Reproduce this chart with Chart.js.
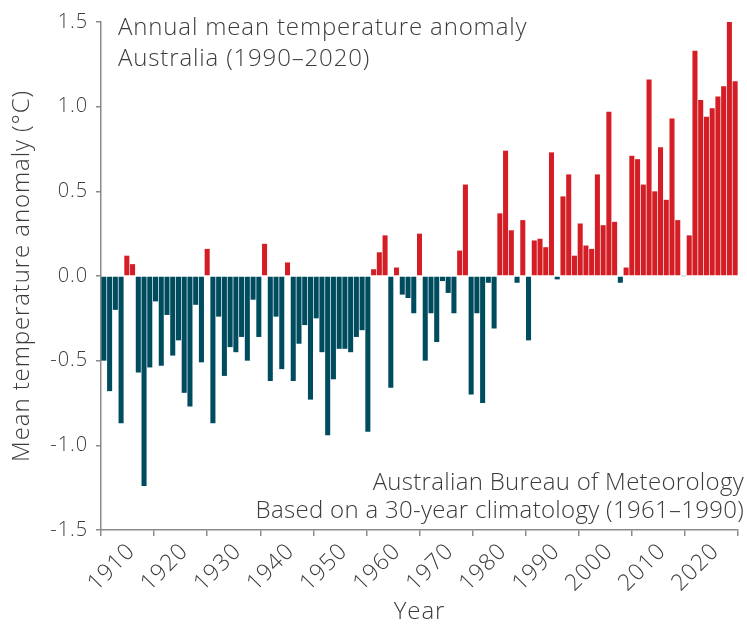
<!DOCTYPE html>
<html>
<head>
<meta charset="utf-8">
<title>Annual mean temperature anomaly – Australia</title>
<script src="https://cdn.jsdelivr.net/npm/chart.js@4/dist/chart.umd.min.js"></script>
<style>
  html, body { margin: 0; padding: 0; background: #ffffff; }
  #wrap { width: 747px; height: 627px; }
  canvas { display: block; }
</style>
</head>
<body>
<div id="wrap"><canvas id="chart" width="747" height="627"></canvas></div>
<script>
// Years covered by the record (one bar per year)
const firstYear = 1910;
const lastYear = 2020;
const years = [];
for (let y = firstYear; y <= lastYear; y++) years.push(String(y));

// Annual mean temperature anomaly (°C), 1910–2020, relative to 1961–1990
const anomalies = [
  -0.50, -0.68, -0.20, -0.87,  0.12,  0.07, -0.57, -1.24, -0.54, -0.15, // 1910s
  -0.53, -0.23, -0.47, -0.38, -0.69, -0.77, -0.17, -0.51,  0.16, -0.87, // 1920s
  -0.24, -0.59, -0.42, -0.45, -0.36, -0.50, -0.14, -0.36,  0.19, -0.62, // 1930s
  -0.24, -0.55,  0.08, -0.62, -0.40, -0.29, -0.73, -0.25, -0.45, -0.94, // 1940s
  -0.61, -0.43, -0.43, -0.45, -0.36, -0.32, -0.92,  0.04,  0.14,  0.24, // 1950s
  -0.66,  0.05, -0.11, -0.13, -0.22,  0.25, -0.50, -0.22, -0.39, -0.03, // 1960s
  -0.10, -0.22,  0.15,  0.54, -0.70, -0.22, -0.75, -0.04, -0.31,  0.37, // 1970s
   0.74,  0.27, -0.04,  0.33, -0.38,  0.21,  0.22,  0.17,  0.73, -0.02, // 1980s
   0.47,  0.60,  0.12,  0.31,  0.18,  0.16,  0.60,  0.30,  0.97,  0.32, // 1990s
  -0.04,  0.05,  0.71,  0.69,  0.54,  1.16,  0.50,  0.76,  0.45,  0.93, // 2000s
   0.33,  0.00,  0.24,  1.33,  1.04,  0.94,  0.99,  1.06,  1.12,  1.52, // 2010s
   1.15                                                                  // 2020
];

// Axis tick values
const yearTicks = [1910, 1920, 1930, 1940, 1950, 1960, 1970, 1980, 1990, 2000, 2010, 2020];
const anomalyTicks = [-1.5, -1.0, -0.5, 0.0, 0.5, 1.0, 1.5];

// Text blocks
const titleLines = ['Annual mean temperature anomaly', 'Australia (1990–2020)'];
const sourceLines = ['Australian Bureau of Meteorology', 'Based on a 30-year climatology (1961–1990)'];

const WARM = '#D41D24';
const COOL = '#004C5F';
const NEUTRAL = '#C8C8C8';
const TEXT = '#3C3C3C';
const AXIS = '#8A8A8A';
const FONT = "'Open Sans', 'Lato', sans-serif";
const SPACING = '0.9px';

const barColours = anomalies.map(v => v > 0 ? WARM : (v < 0 ? COOL : NEUTRAL));

// Slightly open letter spacing for all canvas text (set before measuring and drawing)
const spacingPlugin = {
  id: 'spacing',
  beforeUpdate(chart) { chart.ctx.letterSpacing = SPACING; },
  beforeDraw(chart) { chart.ctx.letterSpacing = SPACING; }
};

// Draws the heading (top left) and the source note (bottom right)
const notesPlugin = {
  id: 'notes',
  afterDraw(chart) {
    const { ctx, chartArea } = chart;
    ctx.save();
    ctx.fillStyle = TEXT;
    ctx.textBaseline = 'alphabetic';
    ctx.font = `300 24px ${FONT}`;
    ctx.letterSpacing = '0.85px';
    ctx.textAlign = 'left';
    titleLines.forEach((line, i) => ctx.fillText(line, chartArea.left + 17, 35 + i * 30.5));
    ctx.letterSpacing = '0.3px';
    ctx.textAlign = 'right';
    sourceLines.forEach((line, i) => ctx.fillText(line, chart.width - 3, 490 + i * 27.5));
    ctx.restore();
  }
};

new Chart(document.getElementById('chart'), {
  type: 'bar',
  data: {
    labels: years,
    datasets: [{
      data: anomalies,
      backgroundColor: barColours,
      borderWidth: 0,
      barPercentage: 0.88,
      categoryPercentage: 1.0,
      minBarLength: 1,
      xAxisID: 'x',
      yAxisID: 'y'
    }]
  },
  options: {
    responsive: false,
    animation: false,
    layout: { padding: { left: 0, right: 9, top: 22, bottom: 0 } },
    plugins: {
      legend: { display: false },
      tooltip: { enabled: false }
    },
    scales: {
      // one slot per year for the bars
      x: {
        type: 'category',
        display: false,
        offset: true
      },
      // labelled year axis
      years: {
        type: 'linear',
        position: 'bottom',
        min: firstYear,
        max: lastYear,
        afterBuildTicks(scale) {
          scale.ticks = yearTicks.map(v => ({ value: v }));
        },
        ticks: {
          autoSkip: false,
          minRotation: 45,
          maxRotation: 45,
          padding: 2,
          labelOffset: 4,
          color: TEXT,
          font: { family: FONT, size: 23, weight: 300 },
          callback: v => String(v)
        },
        grid: {
          drawOnChartArea: false,
          drawTicks: true,
          tickLength: 6,
          color: AXIS,
          lineWidth: 1.5
        },
        border: { display: true, color: AXIS, width: 1.5 },
        title: {
          display: true,
          text: 'Year',
          color: TEXT,
          font: { family: FONT, size: 24, weight: 300 },
          padding: { top: 0, bottom: 0 }
        },
        afterFit(scale) {
          scale.height = 97;
          scale.paddingLeft = 0;
          scale.paddingRight = 0;
        }
      },
      y: {
        type: 'linear',
        position: 'left',
        min: -1.5,
        max: 1.5,
        afterBuildTicks(scale) {
          scale.ticks = anomalyTicks.map(v => ({ value: v }));
        },
        ticks: {
          padding: 8,
          color: TEXT,
          font: { family: FONT, size: 20, weight: 300 },
          callback: v => Number(v).toFixed(1)
        },
        grid: {
          drawOnChartArea: false,
          drawTicks: true,
          tickLength: 5,
          color: AXIS,
          lineWidth: 1.5
        },
        border: { display: true, color: AXIS, width: 1.5 },
        title: {
          display: true,
          text: 'Mean temperature anomaly (°C)',
          color: TEXT,
          font: { family: FONT, size: 24, weight: 300 },
          padding: { top: 8, bottom: 0 }
        },
        afterFit(scale) {
          scale.width = 101;
          scale.paddingTop = 0;
          scale.paddingBottom = 0;
        }
      }
    }
  },
  plugins: [spacingPlugin, notesPlugin]
});
</script>
</body>
</html>
